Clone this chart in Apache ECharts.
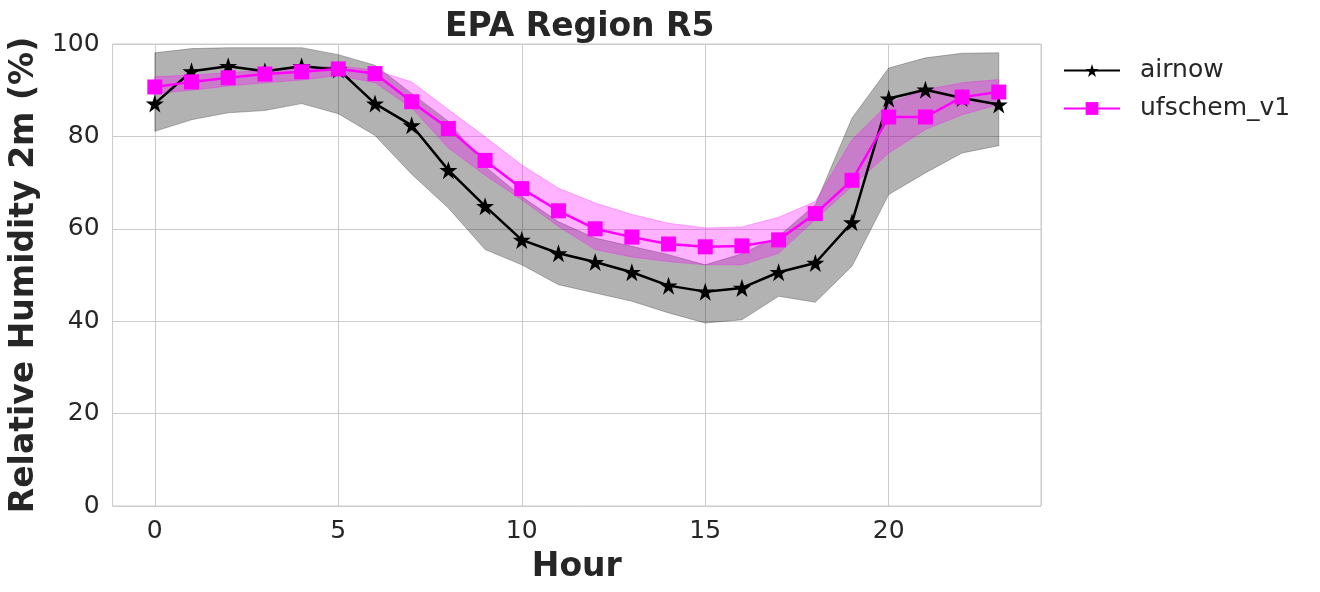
<!DOCTYPE html>
<html>
<head>
<meta charset="utf-8">
<title>EPA Region R5</title>
<script src="https://cdn.jsdelivr.net/npm/echarts@6/dist/echarts.min.js"></script>
<style>
html, body { margin: 0; padding: 0; background: #fff; }
#main { width: 1320px; height: 592px; }
</style>
</head>
<body>
<div id="main"></div>
<script>
// hour of day
const hours = [0, 1, 2, 3, 4, 5, 6, 7, 8, 9, 10, 11, 12, 13, 14, 15, 16, 17, 18, 19, 20, 21, 22, 23]
// airnow observations (mean + shaded range)
const airnow = [87.1, 94.1, 95.2, 94.1, 95.2, 94.5, 87.1, 82.4, 72.7, 64.9, 57.6, 54.7, 52.8, 50.6, 47.7, 46.4, 47.2, 50.6, 52.6, 61.4, 88.2, 90.1, 88.3, 86.9]
const airnowHi = [98.1, 99.0, 99.2, 99.2, 99.2, 97.7, 95.4, 89.3, 83.3, 73.5, 67.0, 61.5, 58.0, 56.2, 54.4, 52.2, 54.6, 58.4, 65.2, 84.0, 94.8, 97.0, 98.0, 98.1]
const airnowLo = [81.1, 83.6, 85.1, 85.6, 87.1, 84.9, 80.2, 71.8, 64.5, 55.5, 52.2, 47.9, 46.1, 44.3, 41.8, 39.6, 40.3, 45.4, 44.1, 51.9, 67.4, 72.1, 76.4, 78.0]
// ufschem_v1 model (mean + shaded range)
const ufschem = [90.7, 91.8, 92.7, 93.5, 94.0, 94.6, 93.6, 87.5, 81.7, 74.8, 68.7, 63.9, 60.0, 58.2, 56.7, 56.1, 56.3, 57.6, 63.3, 70.5, 84.2, 84.2, 88.5, 89.6]
const ufschemHi = [92.9, 93.3, 93.8, 94.3, 94.6, 95.3, 94.3, 91.8, 85.8, 79.9, 73.8, 68.8, 65.6, 63.1, 61.2, 60.2, 60.4, 62.5, 65.9, 79.3, 87.2, 90.1, 91.6, 92.3]
const ufschemLo = [89.3, 90.0, 90.9, 91.6, 92.2, 93.2, 91.6, 86.2, 77.5, 71.6, 66.3, 60.5, 55.5, 53.9, 52.9, 52.2, 52.2, 54.7, 62.0, 69.2, 76.4, 81.5, 84.7, 86.9]
// y ticks
const yTicks = [0, 20, 40, 60, 80, 100]

const FONT = 'DejaVu Sans'
const TXT = '#262626'
const star = 'path://M50,0 L61.8,35.4 L99,35.4 L68.9,57.3 L80.3,92.7 L50,70.8 L19.7,92.7 L31.1,57.3 L1,35.4 L38.2,35.4 Z'

// shaded band between lo and hi, drawn once as one polygon
function band(name, lo, hi, fill, stroke) {
  return {
    name: name,
    type: 'custom',
    z: 1,
    silent: true,
    data: hours.map((h, i) => [h, lo[i], hi[i]]),
    encode: { x: 0, y: [1, 2] },
    renderItem: function (params, api) {
      if (params.dataIndex !== 0) return null
      const pts = []
      for (let i = 0; i < hours.length; i++) pts.push(api.coord([hours[i], hi[i]]))
      for (let i = hours.length - 1; i >= 0; i--) pts.push(api.coord([hours[i], lo[i]]))
      return {
        type: 'polygon',
        shape: { points: pts },
        style: { fill: fill, stroke: stroke, lineWidth: 1 }
      }
    }
  }
}

const mychart = echarts.init(document.getElementById('main'))
const option = {
  backgroundColor: '#fff',
  animation: false,
  title: {
    text: 'EPA Region R5',
    left: 440,
    top: 6,
    textStyle: { fontFamily: FONT, fontSize: 33, fontWeight: 'bold', color: TXT }
  },
  legend: {
    data: ['airnow', 'ufschem_v1'],
    orient: 'vertical',
    left: 1058,
    top: 53,
    itemWidth: 56,
    itemHeight: 16,
    itemGap: 13,
    textStyle: { fontFamily: FONT, fontSize: 25, color: TXT, padding: [0, 0, 0, 15] }
  },
  grid: {
    left: 111, right: 279, top: 44, bottom: 86,
    show: true, borderColor: '#cccccc', borderWidth: 1
  },
  xAxis: {
    type: 'value',
    min: -1.15,
    max: 24.15,
    splitNumber: 5,
    name: 'Hour',
    nameLocation: 'middle',
    nameGap: 45,
    nameTextStyle: { fontFamily: FONT, fontSize: 33, fontWeight: 'bold', color: TXT },
    axisLine: { show: false },
    axisTick: { show: false },
    axisLabel: {
      fontFamily: FONT, fontSize: 25, color: TXT, margin: 13,
      formatter: v => (v % 5 === 0 ? String(v) : '')
    },
    splitLine: { lineStyle: { color: '#cccccc', width: 1 } }
  },
  yAxis: {
    type: 'value',
    min: yTicks[0],
    max: yTicks[yTicks.length - 1],
    interval: yTicks[1] - yTicks[0],
    name: 'Relative Humidity 2m (%)',
    nameLocation: 'middle',
    nameGap: 70,
    nameTextStyle: { fontFamily: FONT, fontSize: 33, fontWeight: 'bold', color: TXT },
    axisLine: { show: false },
    axisTick: { show: false },
    axisLabel: { fontFamily: FONT, fontSize: 25, color: TXT, margin: 13 },
    splitLine: { lineStyle: { color: '#cccccc', width: 1 } }
  },
  series: [
    band('airnow_range', airnowLo, airnowHi, 'rgba(0,0,0,0.3)', 'rgba(0,0,0,0.25)'),
    band('ufschem_range', ufschemLo, ufschemHi, 'rgba(255,0,255,0.3)', 'rgba(255,0,255,0.3)'),
    {
      name: 'airnow',
      type: 'line',
      z: 3,
      data: hours.map((h, i) => [h, airnow[i]]),
      symbol: star,
      symbolSize: 18,
      showAllSymbol: true,
      itemStyle: { color: '#000' },
      lineStyle: { color: '#000', width: 2.5 },
      emphasis: { disabled: true }
    },
    {
      name: 'ufschem_v1',
      type: 'line',
      z: 4,
      data: hours.map((h, i) => [h, ufschem[i]]),
      symbol: 'rect',
      symbolSize: 15,
      showAllSymbol: true,
      itemStyle: { color: '#ff00ff' },
      lineStyle: { color: '#ff00ff', width: 2.5 },
      emphasis: { disabled: true }
    }
  ]
}
mychart.setOption(option)
</script>
</body>
</html>
